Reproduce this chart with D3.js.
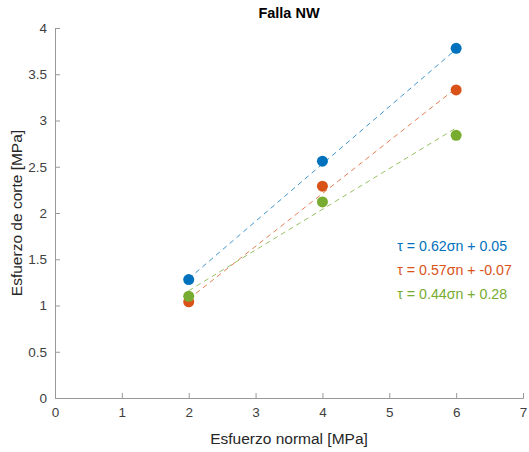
<!DOCTYPE html>
<html>
<head>
<meta charset="utf-8">
<script src="https://cdn.jsdelivr.net/npm/d3@7"></script>
<style>
  body { margin: 0; background: #fff; }
  svg text { font-family: "Liberation Sans", Arial, sans-serif; }
</style>
</head>
<body>
<div id="chart"></div>
<script>
// data
const sigma = [2, 4, 6];
const tauBlue = [1.28, 2.56, 3.78];
const tauOrange = [1.04, 2.29, 3.33];
const tauGreen = [1.10, 2.12, 2.84];
const slopes = [0.62, 0.57, 0.44];
const intercepts = [0.05, -0.07, 0.28];
const eqLabels = ["τ = 0.62σn + 0.05", "τ = 0.57σn + -0.07", "τ = 0.44σn + 0.28"];
const colors = ["#0072BD", "#D95319", "#77AC30"];
const xTicks = [0, 1, 2, 3, 4, 5, 6, 7];
const yTicks = [0, 0.5, 1, 1.5, 2, 2.5, 3, 3.5, 4];

const series = [tauBlue, tauOrange, tauGreen];

let W = 529, H = 452;
let margin = { top: 28, right: 6, bottom: 54, left: 55 },
    width = W - margin.left - margin.right,
    height = H - margin.top - margin.bottom;

let svg = d3.select("#chart").append("svg")
    .attr("width", W)
    .attr("height", H);
let g = svg.append("g")
    .attr("transform", "translate(" + margin.left + "," + margin.top + ")");

let x = d3.scaleLinear().domain([0, 7]).range([0, width]);
let y = d3.scaleLinear().domain([0, 4]).range([height, 0]);

// axes, ticks pointing inward like matlab
let xAxis = g.append("g")
    .attr("transform", "translate(0," + height + ")")
    .call(d3.axisBottom(x).tickValues(xTicks).tickSize(-5).tickPadding(9).tickFormat(d3.format("d")));
let yAxis = g.append("g")
    .call(d3.axisLeft(y).tickValues(yTicks).tickSize(-5).tickPadding(8).tickFormat(d => d));
[xAxis, yAxis].forEach(a => {
    a.select(".domain").attr("stroke", "#999").attr("stroke-width", 1);
    a.selectAll(".tick line").attr("stroke", "#999");
    a.selectAll(".tick text").attr("fill", "#404040").style("font-size", "13.5px");
});

// fit lines
series.forEach((s, i) => {
    g.append("line")
        .attr("x1", x(sigma[0]))
        .attr("y1", y(slopes[i] * sigma[0] + intercepts[i]))
        .attr("x2", x(sigma[sigma.length - 1]))
        .attr("y2", y(slopes[i] * sigma[sigma.length - 1] + intercepts[i]))
        .attr("stroke", colors[i])
        .attr("stroke-width", 1)
        .attr("stroke-opacity", 0.75)
        .attr("stroke-dasharray", "5,4");
});

// points
series.forEach((s, i) => {
    g.selectAll(".pt" + i)
        .data(s)
        .enter()
        .append("circle")
        .attr("cx", (d, j) => x(sigma[j]))
        .attr("cy", d => y(d))
        .attr("r", 5.5)
        .attr("fill", colors[i]);
});

// equations
eqLabels.forEach((t, i) => {
    g.append("text")
        .attr("x", x(5.12))
        .attr("y", y(1.64 - i * 0.26))
        .attr("dy", "0.35em")
        .attr("fill", colors[i])
        .style("font-size", "14.2px")
        .text(t);
});

// title and labels
svg.append("text")
    .attr("x", margin.left + width / 2)
    .attr("y", 18)
    .attr("text-anchor", "middle")
    .style("font-size", "14.5px")
    .style("font-weight", "bold")
    .attr("fill", "#000")
    .text("Falla NW");
svg.append("text")
    .attr("x", margin.left + width / 2)
    .attr("y", 444)
    .attr("text-anchor", "middle")
    .style("font-size", "15.5px")
    .attr("fill", "#262626")
    .text("Esfuerzo normal [MPa]");
svg.append("text")
    .attr("transform", "translate(22," + (margin.top + height / 2) + ") rotate(-90)")
    .attr("text-anchor", "middle")
    .style("font-size", "15.5px")
    .attr("fill", "#262626")
    .text("Esfuerzo de corte [MPa]");
</script>
</body>
</html>
